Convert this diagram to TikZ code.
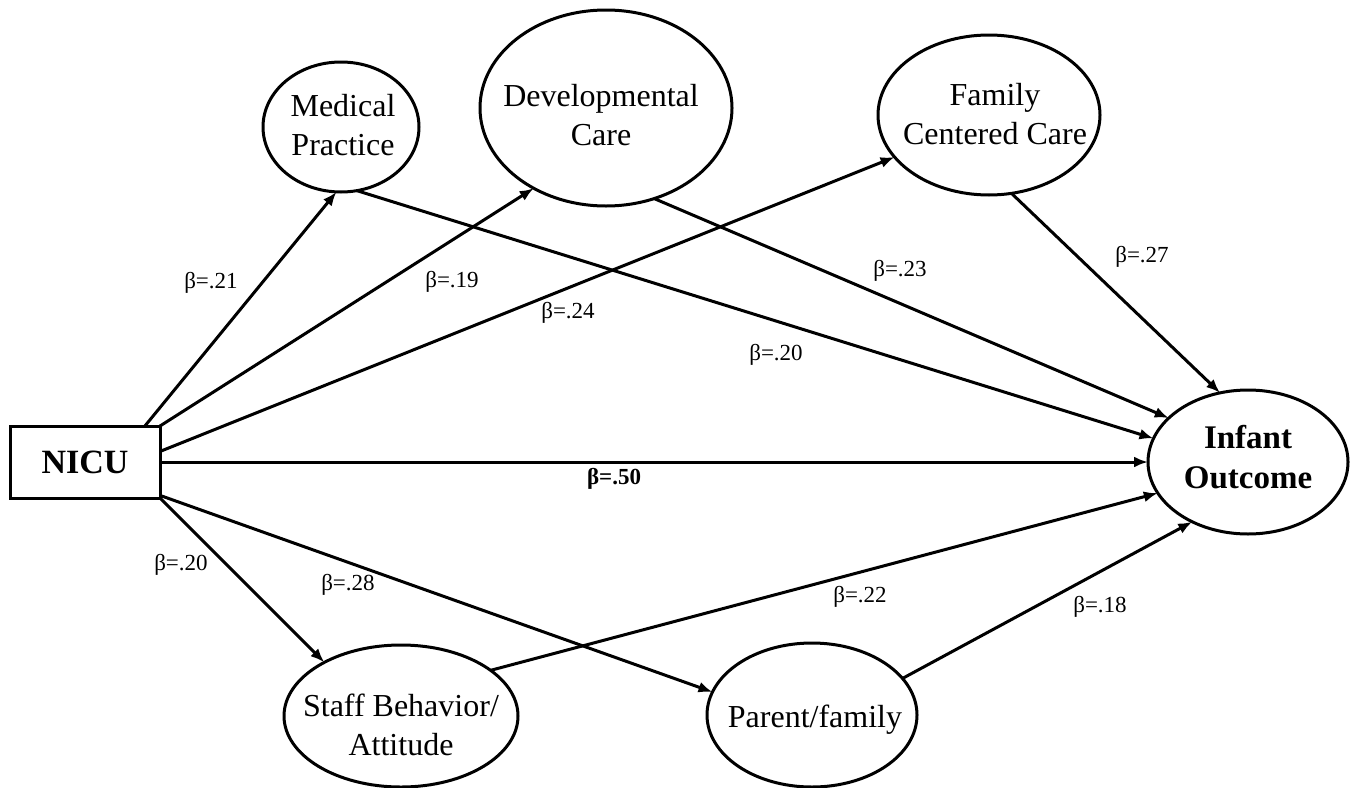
\documentclass[tikz,border=0pt]{standalone}
\usepackage{fontspec}
\setmainfont{Liberation Serif}
\usetikzlibrary{arrows.meta,shapes.geometric}
\begin{document}
\begin{tikzpicture}[x=1pt,y=-1pt,
  ell/.style={draw,ellipse,line width=3pt,inner sep=0pt,outer sep=0pt},
  boxnode/.style={draw,rectangle,line width=3pt,inner sep=0pt,outer sep=0pt},
  txt/.style={align=center,font=\fontsize{32}{39}\selectfont,inner sep=0pt},
  btxt/.style={align=center,font=\fontsize{33}{40}\selectfont\bfseries,inner sep=0pt},
  betalab/.style={font=\fontsize{23}{27}\selectfont,inner sep=0pt},
  link/.style={line width=3pt,-{Latex[length=14pt,width=11pt]}},
]
\useasboundingbox (0,0) rectangle (1357,787);
\fill[white] (0,0) rectangle (1357,787);

% nodes
\node[boxnode,minimum width=150pt,minimum height=72pt,font=\fontsize{34}{40}\selectfont\bfseries] (nicu) at (85,462) {NICU};
\node[ell,minimum width=200pt,minimum height=144pt] (io) at (1248,462) {};
\node[btxt] (iot) at (1248,457) {Infant\\Outcome};
\node[ell,minimum width=156pt,minimum height=130pt] (med) at (341,127) {};
\node[txt] (medt) at (343,125) {Medical\\Practice};
\node[ell,minimum width=252pt,minimum height=196pt] (dev) at (606,108) {};
\node[txt] (devt) at (601,115) {Developmental\\Care};
\node[ell,minimum width=222pt,minimum height=160pt] (fam) at (989,115) {};
\node[txt] (famt) at (995,114) {Family\\Centered Care};
\node[ell,minimum width=234pt,minimum height=142pt] (staff) at (401,716) {};
\node[txt] (stafft) at (401,725) {Staff Behavior/\\Attitude};
\node[ell,minimum width=210pt,minimum height=144pt] (par) at (812,715) {};
\node[txt] (part) at (815,720) {Parent/family};

% connectors
\draw[link] (nicu.31.8) -- (med.266);
\draw[link] (nicu.north east) -- (dev.228);
\draw[link] (nicu.8.3) -- (fam.204);
\draw[link] (nicu.east) -- (io.west);
\draw[link] (nicu.south east) -- (staff.145);
\draw[link] (nicu.-24) -- (par.167);
\draw[link] (med.284) -- (io.166.6);
\draw[link] (dev.298) -- (io.151);
\draw[link] (fam.286) -- (io.112.6);
\draw[link] (staff.27) -- (io.199);
\draw[link] (par.22) -- (io.227);

% labels
\node[betalab] (b21) at (211,283) {β=.21};
\node[betalab] (b19) at (452,282) {β=.19};
\node[betalab] (b24) at (568,313) {β=.24};
\node[betalab] (b23) at (900,271) {β=.23};
\node[betalab] (b20a) at (776,355) {β=.20};
\node[betalab] (b27) at (1142,257) {β=.27};
\node[betalab,font=\fontsize{23}{27}\selectfont\bfseries] (b50) at (614,479) {β=.50};
\node[betalab] (b20b) at (181,565) {β=.20};
\node[betalab] (b28) at (348,585) {β=.28};
\node[betalab] (b22) at (860,597) {β=.22};
\node[betalab] (b18) at (1100,607) {β=.18};
\end{tikzpicture}
\end{document}
